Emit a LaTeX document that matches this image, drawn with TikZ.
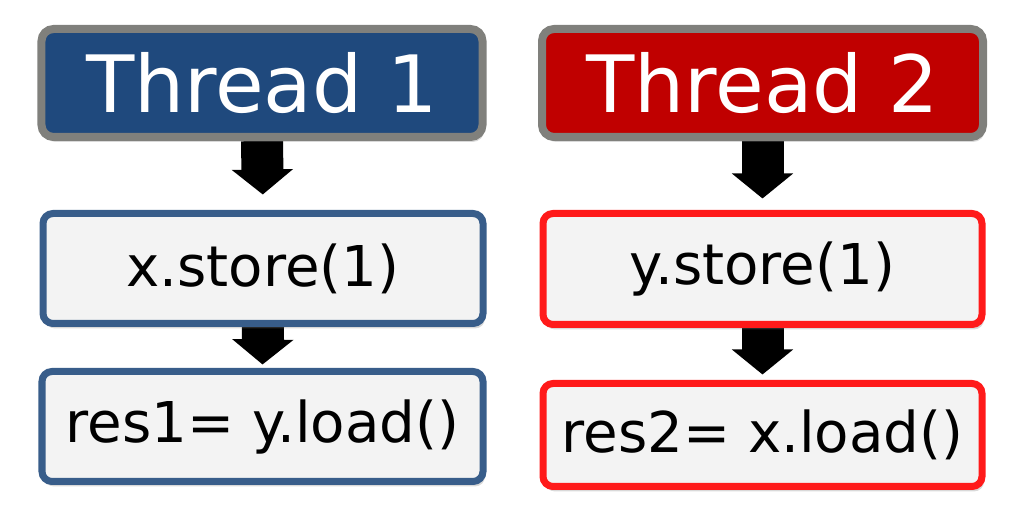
\documentclass[tikz,border=0pt]{standalone}
\usepackage{fontspec}
\setmainfont{DejaVu Sans}
\usetikzlibrary{arrows.meta,shadows,backgrounds}
\definecolor{blu1}{RGB}{31,73,125}
\definecolor{blu2}{RGB}{56,93,138}
\definecolor{rosso1}{RGB}{192,0,0}
\definecolor{rosso2}{RGB}{255,26,26}
\definecolor{grigio}{RGB}{128,128,124}
\definecolor{sfondo}{RGB}{243,243,243}

\begin{document}
\begin{tikzpicture}[
  ombra/.style={drop shadow={opacity=0.3, shadow xshift=0.02cm, shadow yshift=-0.05cm}},
  testa/.style={draw=grigio, line width=0.08cm, rounded corners=0.12cm, text=white,
    minimum width=4.41cm, minimum height=1.08cm, inner sep=0pt,
    font=\fontsize{22.5}{27}\selectfont, ombra},
  blocco/.style={fill=sfondo, line width=0.07cm, rounded corners=0.1cm,
    minimum width=4.4cm, minimum height=1.1cm, inner sep=0pt,
    font=\fontsize{16}{19}\selectfont, ombra},
  freccia/.style={line width=0.42cm, -{Triangle[width=0.6cm,length=0.25cm]}}
]
  \useasboundingbox (0,0) rectangle (10.13,5.09);

  % Thread 1
  \node[testa, fill=blu1] (t1) at (2.62,4.26) {Thread 1};
  \node[blocco, draw=blu2] (st1) at (2.63,2.405) {x.store(1)};
  \node[blocco, draw=blu2, minimum width=4.41cm] (ld1) at (2.625,0.825) {res1= y.load()};

  % Thread 2
  \node[testa, fill=rosso1] (t2) at (7.625,4.26) {Thread 2};
  \node[blocco, draw=rosso2, minimum width=4.39cm, minimum height=1.11cm] (st2) at (7.625,2.40) {y.store(1)};
  \node[blocco, draw=rosso2, minimum width=4.39cm, minimum height=1.03cm] (ld2) at (7.625,0.74) {res2= x.load()};

  % Frecce
  \begin{scope}[on background layer]
    \draw[freccia, shorten >=0.155cm] (t1.south) -- (st1.north);
    \draw[freccia, shorten >=0.035cm] (st1.south) -- (ld1.north);
    \draw[freccia, shorten >=0.115cm] (t2.south) -- (st2.north);
    \draw[freccia, shorten >=0.055cm] (st2.south) -- (ld2.north);
  \end{scope}
\end{tikzpicture}
\end{document}
